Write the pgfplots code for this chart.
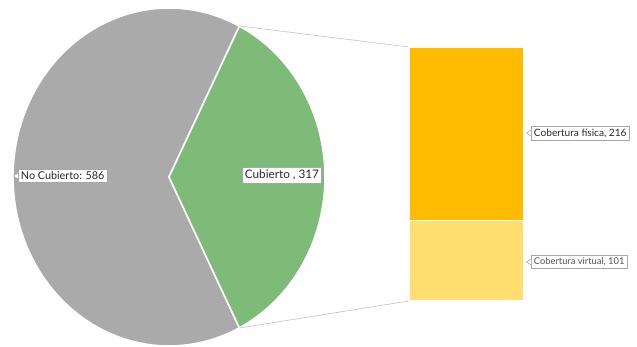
\documentclass[border=0pt]{standalone}
\usepackage{pgfplots}
\pgfplotsset{compat=1.18}
\usepackage{fontspec}
\setmainfont{Lato}
\definecolor{pgray}{RGB}{170,170,170}
\definecolor{pgreen}{RGB}{126,186,120}
\definecolor{porange}{RGB}{255,187,0}
\definecolor{pyellow}{RGB}{255,222,112}
\definecolor{ltxt}{RGB}{40,40,50}
\definecolor{ltxtb}{RGB}{80,80,90}
\tikzset{lbl/.style={draw=gray!70, line width=0.4pt, fill=white, inner xsep=2pt, inner ysep=2pt, text=ltxt},
  ptr/.style={draw=gray!70, line width=0.4pt, fill=white}}
\begin{document}
\begin{tikzpicture}[x=0.75pt,y=0.75pt]
\pgfmathsetmacro{\vNo}{586}
\pgfmathsetmacro{\vCub}{317}
\pgfmathsetmacro{\half}{180*(\vCub/(\vNo+\vCub))}
\pgfmathsetmacro{\endang}{360-\half}
\pgfmathsetmacro{\nhalf}{-\half}
% pie (pixel-scaled axis covering the whole picture)
\begin{axis}[name=pie, at={(0pt,0pt)}, anchor=south west, scale only axis,
  width=477.75pt, height=255.75pt, xmin=0, xmax=637, ymin=0, ymax=341,
  hide axis, clip=false]
\addplot[fill=pgray, draw=white, line width=1.2pt, domain=\half:\endang, samples=150]
  ({169+156*cos(x)},{164+169*sin(x)}) -- (axis cs:169,164) -- cycle;
\addplot[fill=pgreen, draw=white, line width=1.2pt, domain=\nhalf:\half, samples=100]
  ({169+156*cos(x)},{164+169*sin(x)}) -- (axis cs:169,164) -- cycle;
% connector lines
\addplot[gray!45, line width=0.5pt] coordinates {(239.5,315) (409,294)};
\addplot[gray!45, line width=0.5pt] coordinates {(239.5,13) (409,40)};
\end{axis}
% bar of pie
\begin{axis}[at={(pie.south west)}, anchor=south west, xshift=306.75pt, yshift=30pt,
  scale only axis,
  width=86.25pt, height=190.5pt, xmin=-0.5, xmax=0.5, ymin=0, ymax=317,
  ybar stacked, bar width=1, hide axis, clip=false]
\addplot[fill=pyellow, draw=white, line width=0.8pt] coordinates {(0,101)};
\addplot[fill=porange, draw=white, line width=0.8pt] coordinates {(0,216)};
\end{axis}
% labels (on top)
\begin{axis}[at={(pie.south west)}, anchor=south west, scale only axis,
  width=477.75pt, height=255.75pt, xmin=0, xmax=637, ymin=0, ymax=341,
  hide axis, clip=false]
\node[lbl, anchor=west, font=\fontsize{8.1}{9}\selectfont] (na) at (axis cs:18,165) {No Cubierto: 586};
\draw[ptr] ([yshift=2.2pt]na.west) -- ++(-3.5pt,-2.2pt) -- ++(3.5pt,-2.2pt);
\node[lbl, anchor=west, font=\fontsize{8.8}{9}\selectfont] (nb) at (axis cs:242,166) {Cubierto , 317};
\node[lbl, anchor=west, font=\fontsize{7.6}{8}\selectfont] (nc) at (axis cs:531,208) {Cobertura física, 216};
\draw[ptr] ([yshift=2.2pt]nc.west) -- ++(-3.5pt,-2.2pt) -- ++(3.5pt,-2.2pt);
\node[lbl, anchor=west, text=ltxtb, font=\fontsize{7.0}{8}\selectfont] (nd) at (axis cs:531,79) {Cobertura virtual, 101};
\draw[ptr] ([yshift=2.2pt]nd.west) -- ++(-3.5pt,-2.2pt) -- ++(3.5pt,-2.2pt);
\end{axis}
\path (pie.south west) (pie.north east);
\end{tikzpicture}
\end{document}
